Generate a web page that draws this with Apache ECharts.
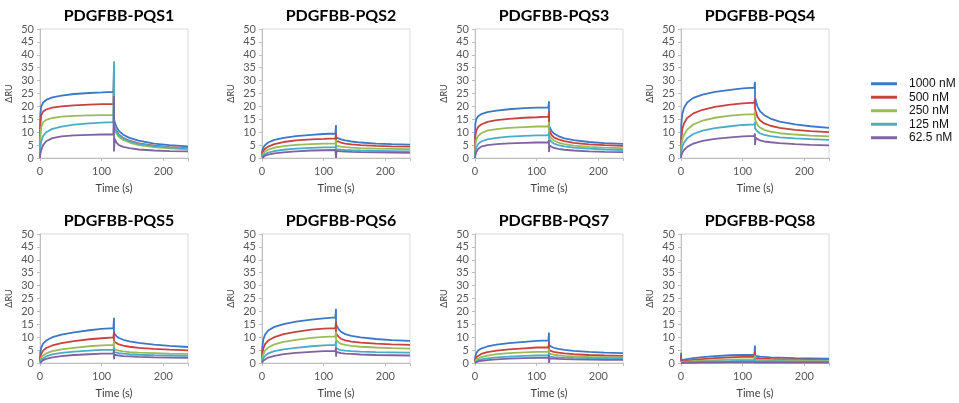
<!DOCTYPE html>
<html>
<head>
<meta charset="utf-8">
<title>PDGFBB-PQS sensorgrams</title>
<script src="https://cdn.jsdelivr.net/npm/echarts@6/dist/echarts.min.js"></script>
<style>
  html, body { margin: 0; padding: 0; background: #fff; }
  #chart { width: 959px; height: 403px; }
</style>
</head>
<body>
<div id="chart"></div>
<script>
// Sensorgram data: association phase (0-119 s), injection-end artefact at 120 s
// (high, low), then dissociation phase (121-240 s). Rows follow the concentrations.
const concentrations = ['1000 nM', '500 nM', '250 nM', '125 nM', '62.5 nM'];
const panelNames = ['PDGFBB-PQS1', 'PDGFBB-PQS2', 'PDGFBB-PQS3', 'PDGFBB-PQS4',
                    'PDGFBB-PQS5', 'PDGFBB-PQS6', 'PDGFBB-PQS7', 'PDGFBB-PQS8'];
const timeAssoc = [0, 0.5, 2, 5, 10, 20, 35, 55, 80, 100, 119];
const timeSpike = 120;
const timeDissoc = [121, 124, 128, 135, 145, 160, 185, 210, 240];
const xTicks = [0, 100, 200];

const pqs1Assoc = [
  [0, 17, 20, 21.5, 22.5, 23.5, 24.2, 24.8, 25.2, 25.4, 25.6],
  [0, 13, 16.5, 18, 18.8, 19.5, 20, 20.4, 20.7, 20.9, 21],
  [0, 8, 12, 13.8, 14.8, 15.5, 16, 16.3, 16.5, 16.6, 16.7],
  [0, 4, 6.5, 8.5, 10, 11.3, 12.2, 12.9, 13.4, 13.7, 13.9],
  [0, 1.5, 3, 5, 6.5, 7.7, 8.4, 8.8, 9, 9.1, 9.1]
];
const pqs1Spike = [[36, 15], [30, 12], [28, 10], [37.5, 10], [24, 2.5]];
const pqs1Dissoc = [
  [14, 12, 10.5, 9, 7.8, 6.7, 5.6, 5, 4.5],
  [12.5, 10.5, 9, 7.8, 6.7, 5.7, 4.8, 4.2, 3.8],
  [11.5, 9.5, 8.2, 7, 6, 5, 4.2, 3.7, 3.4],
  [12, 10, 8.8, 7.6, 6.5, 5.5, 4.6, 4.1, 3.7],
  [7.5, 6, 5, 4.3, 3.8, 3.3, 2.9, 2.7, 2.6]
];

const pqs2Assoc = [
  [1, 3, 4, 5, 6, 7, 7.8, 8.5, 9, 9.3, 9.5],
  [0.5, 2, 2.8, 3.6, 4.4, 5.4, 6.2, 6.8, 7.2, 7.4, 7.6],
  [0.3, 1.2, 1.8, 2.5, 3.2, 4, 4.6, 5.1, 5.4, 5.6, 5.7],
  [0.2, 0.7, 1.1, 1.6, 2.1, 2.7, 3.2, 3.6, 3.9, 4.1, 4.2],
  [0, 0.3, 0.6, 0.9, 1.3, 1.8, 2.2, 2.6, 2.9, 3, 3.1]
];
const pqs2Spike = [[12.8, 8], [9.5, 6.5], [7, 4.5], [5, 3.3], [3.5, 0]];
const pqs2Dissoc = [
  [8, 7.6, 7.2, 6.8, 6.4, 6, 5.6, 5.4, 5.2],
  [6.8, 6.4, 6, 5.6, 5.3, 5, 4.7, 4.5, 4.4],
  [4.8, 4.6, 4.4, 4.2, 4, 3.8, 3.6, 3.5, 3.4],
  [3.5, 3.3, 3.2, 3.1, 3, 2.9, 2.8, 2.7, 2.6],
  [2.8, 2.7, 2.6, 2.5, 2.4, 2.3, 2.2, 2.1, 2]
];

const pqs3Assoc = [
  [2, 13, 15, 16.2, 17, 17.8, 18.4, 18.9, 19.3, 19.5, 19.6],
  [1, 8.5, 10.5, 12, 13, 14, 14.7, 15.2, 15.6, 15.8, 16],
  [0.5, 5, 7, 8.5, 9.6, 10.6, 11.2, 11.7, 12, 12.2, 12.3],
  [0.3, 2.5, 4, 5.4, 6.4, 7.2, 7.8, 8.3, 8.6, 8.8, 8.9],
  [0, 1, 2.3, 3.5, 4.4, 5, 5.4, 5.7, 5.9, 6, 6.1]
];
const pqs3Spike = [[22, 13], [18, 11], [14, 9], [10, 7.5], [7, 2.3]];
const pqs3Dissoc = [
  [12, 10.5, 9.5, 8.5, 7.6, 6.9, 6.2, 5.8, 5.5],
  [10.5, 9, 8, 7.2, 6.5, 5.9, 5.3, 5, 4.7],
  [9, 7.6, 6.8, 6, 5.4, 4.8, 4.3, 4, 3.8],
  [7.5, 6.3, 5.6, 5, 4.5, 4, 3.6, 3.3, 3.1],
  [4.8, 4.3, 3.9, 3.5, 3.2, 2.9, 2.6, 2.4, 2.3]
];

const pqs4Assoc = [
  [2, 13, 17, 19.5, 21.5, 23.3, 24.6, 25.6, 26.4, 27, 27.3],
  [1, 7.5, 11, 13.5, 15.5, 17.3, 18.7, 19.8, 20.7, 21.2, 21.5],
  [0.5, 4.5, 7, 9, 11, 13, 14.5, 15.6, 16.4, 16.8, 17],
  [0.3, 2.5, 4.3, 6, 7.7, 9.3, 10.6, 11.6, 12.3, 12.8, 13],
  [0, 1, 2, 3.2, 4.3, 5.6, 6.6, 7.4, 8, 8.4, 8.6]
];
const pqs4Spike = [[29.5, 23.5], [23, 19], [18, 15], [14, 11.5], [9.5, 5]];
const pqs4Dissoc = [
  [23, 20, 18.2, 16.6, 15.3, 14.1, 13, 12.3, 11.7],
  [18.5, 16, 14.6, 13.4, 12.5, 11.7, 10.9, 10.4, 10],
  [14.5, 12.8, 11.8, 10.9, 10.2, 9.6, 9.1, 8.7, 8.4],
  [11.5, 10.3, 9.6, 9, 8.5, 8, 7.6, 7.3, 7],
  [7.8, 7.2, 6.8, 6.4, 6.1, 5.8, 5.4, 5.1, 4.9]
];

const pqs5Assoc = [
  [1, 4, 6, 7.5, 8.7, 10, 11, 11.9, 12.7, 13.2, 13.5],
  [0.5, 2, 3.5, 4.8, 5.8, 6.8, 7.7, 8.5, 9.2, 9.6, 9.9],
  [0.3, 1, 2, 2.9, 3.7, 4.6, 5.3, 5.9, 6.5, 6.8, 7],
  [0.2, 0.6, 1.2, 1.9, 2.6, 3.3, 3.9, 4.4, 4.8, 5.1, 5.2],
  [0, 0.3, 0.7, 1.1, 1.6, 2.2, 2.7, 3.1, 3.4, 3.6, 3.7]
];
const pqs5Spike = [[17.5, 11.5], [12, 8.5], [8.5, 5.5], [6, 4.2], [5, 1.5]];
const pqs5Dissoc = [
  [11.5, 10.4, 9.7, 9, 8.4, 7.8, 7.1, 6.6, 6.2],
  [8.5, 7.7, 7.2, 6.7, 6.3, 5.9, 5.5, 5.2, 4.9],
  [5.6, 5.1, 4.8, 4.5, 4.2, 4, 3.8, 3.6, 3.5],
  [4.3, 4, 3.8, 3.6, 3.4, 3.2, 3, 2.9, 2.8],
  [3.2, 3, 2.9, 2.7, 2.6, 2.4, 2.2, 2.1, 2]
];

const pqs6Assoc = [
  [1.5, 6, 9, 11, 12.6, 14, 15.1, 16, 16.8, 17.3, 17.7],
  [1, 3.5, 5.5, 7.3, 8.7, 10, 11.2, 12.1, 12.9, 13.3, 13.5],
  [0.5, 2, 3.4, 4.8, 6, 7.2, 8.2, 9, 9.7, 10.1, 10.3],
  [0.3, 1, 1.8, 2.8, 3.7, 4.6, 5.3, 5.9, 6.5, 6.8, 7],
  [0, 0.4, 0.9, 1.5, 2.1, 2.8, 3.4, 3.9, 4.3, 4.6, 4.7]
];
const pqs6Spike = [[21, 15], [16, 11.5], [12, 9], [8.5, 5.8], [6, 2.5]];
const pqs6Dissoc = [
  [15, 13.2, 12.1, 11.2, 10.5, 9.9, 9.3, 8.9, 8.6],
  [11.5, 10.2, 9.4, 8.8, 8.3, 7.9, 7.5, 7.2, 7],
  [9, 8, 7.4, 7, 6.6, 6.3, 6, 5.8, 5.6],
  [5.8, 5.3, 5, 4.8, 4.6, 4.4, 4.2, 4.1, 4],
  [4.3, 4, 3.8, 3.6, 3.5, 3.3, 3.1, 3, 2.9]
];

const pqs7Assoc = [
  [0.5, 2.5, 3.8, 4.8, 5.6, 6.4, 7.1, 7.7, 8.2, 8.6, 8.8],
  [0.3, 1.4, 2.2, 2.9, 3.5, 4.2, 4.8, 5.3, 5.7, 6, 6.1],
  [0.2, 0.8, 1.3, 1.8, 2.3, 2.9, 3.4, 3.8, 4.1, 4.3, 4.4],
  [0.1, 0.4, 0.7, 1, 1.4, 1.8, 2.2, 2.5, 2.8, 2.9, 3],
  [0, 0.2, 0.4, 0.6, 0.8, 1.1, 1.4, 1.7, 1.9, 2, 2]
];
const pqs7Spike = [[11.8, 7], [8, 5], [5.5, 3.6], [4, 2.5], [3, 0]];
const pqs7Dissoc = [
  [7, 6.3, 5.9, 5.5, 5.1, 4.7, 4.3, 4, 3.8],
  [5, 4.6, 4.3, 4, 3.7, 3.4, 3.1, 2.9, 2.8],
  [3.6, 3.4, 3.2, 3, 2.8, 2.6, 2.4, 2.3, 2.2],
  [2.5, 2.4, 2.3, 2.2, 2.1, 2, 1.9, 1.8, 1.7],
  [1.8, 1.7, 1.7, 1.6, 1.5, 1.4, 1.3, 1.25, 1.2]
];

const pqs8Assoc = [
  [4, 1, 1.1, 1.3, 1.5, 1.9, 2.3, 2.7, 3, 3.1, 3.2],
  [3, 0.5, 0.6, 0.7, 0.9, 1.2, 1.5, 1.9, 2.2, 2.4, 2.5],
  [0.3, 0.3, 0.3, 0.4, 0.5, 0.7, 0.9, 1.1, 1.3, 1.4, 1.5],
  [0.1, 0.1, 0.2, 0.2, 0.3, 0.4, 0.5, 0.6, 0.7, 0.8, 0.8],
  [0, 0, 0, 0.1, 0.1, 0.1, 0.2, 0.2, 0.3, 0.3, 0.3]
];
const pqs8Spike = [[6.8, 0], [4.5, 1.5], [3, 0.5], [2, 0], [1, 0]];
const pqs8Dissoc = [
  [2.8, 2.6, 2.5, 2.4, 2.2, 2.1, 1.9, 1.8, 1.7],
  [2, 1.9, 1.8, 1.7, 1.6, 1.5, 1.4, 1.3, 1.2],
  [1.3, 1.2, 1.2, 1.1, 1.1, 1, 1, 0.9, 0.9],
  [0.7, 0.7, 0.6, 0.6, 0.6, 0.6, 0.5, 0.5, 0.5],
  [0.2, 0.2, 0.2, 0.2, 0.2, 0.2, 0.2, 0.2, 0.2]
];

const panels = [
  [pqs1Assoc, pqs1Spike, pqs1Dissoc], [pqs2Assoc, pqs2Spike, pqs2Dissoc],
  [pqs3Assoc, pqs3Spike, pqs3Dissoc], [pqs4Assoc, pqs4Spike, pqs4Dissoc],
  [pqs5Assoc, pqs5Spike, pqs5Dissoc], [pqs6Assoc, pqs6Spike, pqs6Dissoc],
  [pqs7Assoc, pqs7Spike, pqs7Dissoc], [pqs8Assoc, pqs8Spike, pqs8Dissoc]
];

const colors = ['#3D78C6', '#C8423F', '#9BBB59', '#4BACC6', '#7E62A3'];

// layout of the 2 x 4 grid of small plots
const colLeft = [40, 262, 475, 681];
const rowTop = [29, 234];
const plotW = 148;
const plotH = 129;

const axisGray = '#BFBFBF';
const labelGray = '#595959';
const font = 'Lato, "Open Sans", sans-serif';

const grids = [], xAxes = [], yAxes = [], titles = [], series = [];

panels.forEach(function (p, i) {
  const col = i % 4, row = Math.floor(i / 4);
  grids.push({
    left: colLeft[col], top: rowTop[row], width: plotW, height: plotH,
    show: true, borderColor: '#D9D9D9', borderWidth: 1, backgroundColor: '#fff'
  });
  titles.push({
    text: panelNames[i],
    left: colLeft[col] + plotW / 2,
    top: rowTop[row] - 26,
    textAlign: 'center',
    textStyle: { fontFamily: font, fontWeight: 'bold', fontSize: 16, color: '#000' }
  });
  xAxes.push({
    type: 'value', gridIndex: i, min: 0, max: 240, interval: 100,
    name: 'Time (s)', nameLocation: 'middle', nameGap: 25,
    nameTextStyle: { fontFamily: font, fontSize: 11, color: '#404040' },
    axisLine: { show: true, lineStyle: { color: axisGray } },
    axisTick: { show: true, length: 3, lineStyle: { color: axisGray } },
    axisLabel: {
      fontFamily: font, fontSize: 11, color: labelGray, margin: 8,
      formatter: function (v) { return xTicks.indexOf(v) >= 0 ? String(v) : ''; }
    },
    splitLine: { show: false }
  });
  yAxes.push({
    type: 'value', gridIndex: i, min: 0, max: 50, interval: 5,
    name: 'ΔRU', nameLocation: 'middle', nameGap: 26, nameRotate: 90,
    nameTextStyle: { fontFamily: font, fontSize: 9, color: '#404040' },
    axisLine: { show: true, lineStyle: { color: axisGray } },
    axisTick: { show: true, length: 3, lineStyle: { color: axisGray } },
    axisLabel: { fontFamily: font, fontSize: 11, color: labelGray, margin: 6 },
    splitLine: { show: false }
  });
  const assoc = p[0], spike = p[1], dissoc = p[2];
  concentrations.forEach(function (name, k) {
    const data = [];
    timeAssoc.forEach(function (t, j) { data.push([t, assoc[k][j]]); });
    data.push([timeSpike, spike[k][0]]);
    data.push([timeSpike, spike[k][1]]);
    timeDissoc.forEach(function (t, j) { data.push([t, dissoc[k][j]]); });
    series.push({
      type: 'line', name: name, xAxisIndex: i, yAxisIndex: i,
      data: data, showSymbol: false, symbol: 'none',
      lineStyle: { width: 1.8, color: colors[k] },
      itemStyle: { color: colors[k] },
      clip: true
    });
  });
});

const chart = echarts.init(document.getElementById('chart'), null, { renderer: 'canvas' });
chart.setOption({
  animation: false,
  backgroundColor: '#fff',
  color: colors,
  title: titles,
  grid: grids,
  xAxis: xAxes,
  yAxis: yAxes,
  legend: {
    data: concentrations,
    orient: 'vertical',
    left: 866, top: 72,
    icon: 'rect', itemWidth: 26, itemHeight: 3, itemGap: 0,
    textStyle: {
      fontFamily: '"Liberation Sans", Arial, sans-serif', fontSize: 12,
      color: '#111', lineHeight: 13.5, padding: [0, 0, 0, 7]
    }
  },
  series: series
});
</script>
</body>
</html>
